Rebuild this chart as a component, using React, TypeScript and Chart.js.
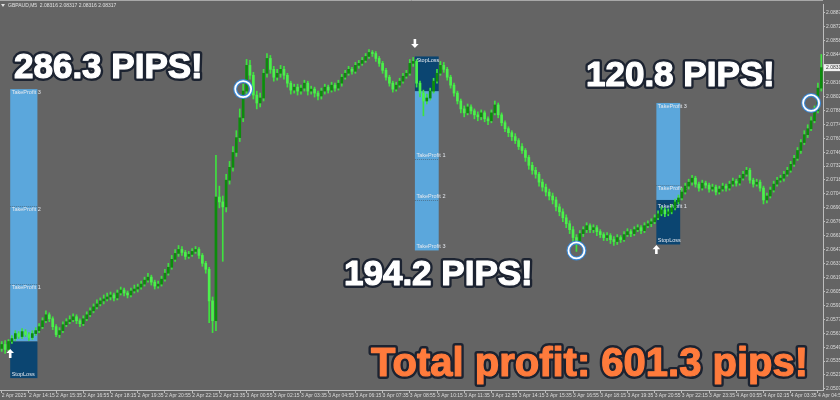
import React, { useEffect, useRef } from "react";
import { Chart, registerables } from "chart.js";

Chart.register(...registerables);

// ---- Price data (GBPAUD, one bar per 10 minutes) ----
const firstOpen = 2.0548;
const closes = [
  2.0552, 2.0547, 2.0555, 2.0558, 2.0563, 2.0560, 2.0565, 2.0562, 2.0559, 2.0563,
  2.0566, 2.0570, 2.0576, 2.0582, 2.0578, 2.0570, 2.0562, 2.0566, 2.0572, 2.0575,
  2.0577, 2.0580, 2.0576, 2.0573, 2.0578, 2.0582, 2.0586, 2.0590, 2.0593, 2.0596,
  2.0598, 2.0600, 2.0602, 2.0599, 2.0604, 2.0607, 2.0604, 2.0602, 2.0606, 2.0608,
  2.0610, 2.0613, 2.0617, 2.0620, 2.0615, 2.0611, 2.0613, 2.0618, 2.0624, 2.0630,
  2.0638, 2.0644, 2.0648, 2.0645, 2.0641, 2.0643, 2.0646, 2.0648, 2.0642, 2.0634,
  2.0628, 2.0596, 2.0576, 2.0701, 2.0696, 2.0691, 2.0718, 2.0731, 2.0746, 2.0761,
  2.0781, 2.0808, 2.0834, 2.0824, 2.0804, 2.0796, 2.0801, 2.0826, 2.0841, 2.0830,
  2.0822, 2.0826, 2.0830, 2.0824, 2.0816, 2.0809, 2.0812, 2.0808, 2.0811, 2.0816,
  2.0808, 2.0810, 2.0806, 2.0803, 2.0808, 2.0812, 2.0809, 2.0814, 2.0811, 2.0816,
  2.0822, 2.0826, 2.0830, 2.0828, 2.0834, 2.0836, 2.0839, 2.0843, 2.0847, 2.0846,
  2.0841, 2.0836, 2.0829, 2.0822, 2.0816, 2.0810, 2.0814, 2.0818, 2.0823, 2.0826,
  2.0836, 2.0838, 2.0816, 2.0806, 2.0798, 2.0801, 2.0808, 2.0818, 2.0826, 2.0834,
  2.0830, 2.0822, 2.0814, 2.0806, 2.0798, 2.0790, 2.0786, 2.0792, 2.0788, 2.0784,
  2.0782, 2.0786, 2.0780, 2.0778, 2.0786, 2.0794, 2.0784, 2.0776, 2.0770, 2.0766,
  2.0762, 2.0758, 2.0752, 2.0748, 2.0741, 2.0733, 2.0728, 2.0724, 2.0716, 2.0711,
  2.0706, 2.0702, 2.0698, 2.0691, 2.0686, 2.0680, 2.0674, 2.0668, 2.0660, 2.0656,
  2.0664, 2.0668, 2.0672, 2.0668, 2.0670, 2.0666, 2.0663, 2.0660, 2.0662, 2.0658,
  2.0656, 2.0660, 2.0658, 2.0663, 2.0666, 2.0664, 2.0668, 2.0670, 2.0667, 2.0672,
  2.0674, 2.0676, 2.0680, 2.0684, 2.0688, 2.0684, 2.0686, 2.0690, 2.0696, 2.0700,
  2.0706, 2.0712, 2.0716, 2.0720, 2.0714, 2.0710, 2.0715, 2.0713, 2.0709, 2.0711,
  2.0706, 2.0709, 2.0712, 2.0710, 2.0714, 2.0717, 2.0715, 2.0720, 2.0724, 2.0728,
  2.0718, 2.0714, 2.0716, 2.0710, 2.0698, 2.0702, 2.0708, 2.0714, 2.0718, 2.0720,
  2.0724, 2.0728, 2.0734, 2.0740, 2.0748, 2.0756, 2.0764, 2.0770, 2.0778, 2.0788,
  2.0811, 2.08317,
];
const highs = [
  2.0555, 2.0556, 2.0557, 2.0561, 2.0566, 2.0565, 2.0568, 2.0567, 2.0564, 2.0566,
  2.0569, 2.0573, 2.0579, 2.0586, 2.0584, 2.0580, 2.0572, 2.0569, 2.0575, 2.0578,
  2.0581, 2.0583, 2.0582, 2.0578, 2.0581, 2.0585, 2.0589, 2.0593, 2.0597, 2.0599,
  2.0602, 2.0604, 2.0605, 2.0604, 2.0607, 2.0610, 2.0609, 2.0606, 2.0609, 2.0612,
  2.0613, 2.0616, 2.0620, 2.0624, 2.0622, 2.0617, 2.0616, 2.0621, 2.0628, 2.0634,
  2.0642, 2.0648, 2.0652, 2.0651, 2.0647, 2.0646, 2.0649, 2.0651, 2.0650, 2.0644,
  2.0636, 2.0630, 2.0600, 2.0743, 2.0712, 2.0702, 2.0724, 2.0737, 2.0752, 2.0768,
  2.0790, 2.0815, 2.0840, 2.0839, 2.0827, 2.0808, 2.0806, 2.0830, 2.0846, 2.0844,
  2.0833, 2.0830, 2.0834, 2.0833, 2.0826, 2.0818, 2.0815, 2.0815, 2.0814, 2.0819,
  2.0818, 2.0813, 2.0812, 2.0808, 2.0811, 2.0815, 2.0814, 2.0817, 2.0816, 2.0819,
  2.0825, 2.0829, 2.0833, 2.0832, 2.0837, 2.0839, 2.0842, 2.0846, 2.0850, 2.0849,
  2.0848, 2.0843, 2.0838, 2.0831, 2.0824, 2.0818, 2.0817, 2.0821, 2.0826, 2.0829,
  2.0840, 2.0842, 2.0840, 2.0818, 2.0809, 2.0805, 2.0811, 2.0821, 2.0830, 2.0838,
  2.0837, 2.0832, 2.0824, 2.0816, 2.0808, 2.0800, 2.0793, 2.0795, 2.0794, 2.0790,
  2.0787, 2.0789, 2.0788, 2.0782, 2.0789, 2.0798, 2.0796, 2.0786, 2.0778, 2.0772,
  2.0768, 2.0765, 2.0760, 2.0755, 2.0750, 2.0743, 2.0736, 2.0731, 2.0726, 2.0719,
  2.0714, 2.0709, 2.0705, 2.0701, 2.0694, 2.0689, 2.0683, 2.0677, 2.0671, 2.0663,
  2.0667, 2.0671, 2.0675, 2.0674, 2.0673, 2.0672, 2.0668, 2.0665, 2.0665, 2.0664,
  2.0661, 2.0663, 2.0662, 2.0666, 2.0669, 2.0668, 2.0671, 2.0673, 2.0672, 2.0675,
  2.0677, 2.0679, 2.0683, 2.0687, 2.0691, 2.0690, 2.0689, 2.0693, 2.0699, 2.0703,
  2.0710, 2.0715, 2.0719, 2.0723, 2.0722, 2.0716, 2.0718, 2.0717, 2.0715, 2.0714,
  2.0713, 2.0712, 2.0715, 2.0714, 2.0717, 2.0720, 2.0719, 2.0723, 2.0727, 2.0731,
  2.0730, 2.0720, 2.0719, 2.0718, 2.0712, 2.0705, 2.0711, 2.0717, 2.0721, 2.0723,
  2.0727, 2.0731, 2.0737, 2.0743, 2.0751, 2.0759, 2.0768, 2.0774, 2.0782, 2.0793,
  2.0816, 2.0845,
];
const lows = [
  2.0545, 2.0543, 2.0545, 2.0553, 2.0556, 2.0558, 2.0558, 2.0560, 2.0556, 2.0557,
  2.0561, 2.0564, 2.0568, 2.0574, 2.0575, 2.0567, 2.0560, 2.0559, 2.0564, 2.0570,
  2.0573, 2.0575, 2.0573, 2.0570, 2.0571, 2.0576, 2.0580, 2.0584, 2.0588, 2.0591,
  2.0593, 2.0596, 2.0597, 2.0596, 2.0597, 2.0602, 2.0601, 2.0599, 2.0600, 2.0604,
  2.0605, 2.0608, 2.0611, 2.0615, 2.0612, 2.0608, 2.0609, 2.0611, 2.0616, 2.0622,
  2.0628, 2.0636, 2.0641, 2.0642, 2.0638, 2.0639, 2.0641, 2.0644, 2.0639, 2.0631,
  2.0624, 2.0574, 2.0564, 2.0566, 2.0690, 2.0636, 2.0686, 2.0714, 2.0727, 2.0742,
  2.0757, 2.0777, 2.0804, 2.0820, 2.0800, 2.0790, 2.0792, 2.0798, 2.0822, 2.0826,
  2.0818, 2.0819, 2.0822, 2.0820, 2.0812, 2.0805, 2.0806, 2.0804, 2.0805, 2.0808,
  2.0804, 2.0805, 2.0802, 2.0799, 2.0800, 2.0805, 2.0806, 2.0807, 2.0808, 2.0809,
  2.0813, 2.0820, 2.0824, 2.0825, 2.0826, 2.0831, 2.0834, 2.0837, 2.0841, 2.0843,
  2.0838, 2.0833, 2.0826, 2.0819, 2.0813, 2.0807, 2.0808, 2.0812, 2.0816, 2.0821,
  2.0824, 2.0833, 2.0812, 2.0802, 2.0783, 2.0795, 2.0799, 2.0806, 2.0816, 2.0824,
  2.0827, 2.0819, 2.0811, 2.0803, 2.0795, 2.0786, 2.0782, 2.0784, 2.0785, 2.0780,
  2.0778, 2.0779, 2.0777, 2.0774, 2.0776, 2.0784, 2.0781, 2.0773, 2.0767, 2.0762,
  2.0758, 2.0755, 2.0749, 2.0745, 2.0737, 2.0729, 2.0724, 2.0720, 2.0712, 2.0707,
  2.0702, 2.0698, 2.0694, 2.0687, 2.0682, 2.0676, 2.0670, 2.0664, 2.0654, 2.0646,
  2.0653, 2.0661, 2.0665, 2.0665, 2.0665, 2.0662, 2.0660, 2.0657, 2.0657, 2.0654,
  2.0652, 2.0653, 2.0655, 2.0656, 2.0661, 2.0661, 2.0662, 2.0666, 2.0664, 2.0665,
  2.0670, 2.0671, 2.0674, 2.0678, 2.0682, 2.0681, 2.0682, 2.0684, 2.0688, 2.0694,
  2.0698, 2.0704, 2.0709, 2.0713, 2.0711, 2.0707, 2.0708, 2.0710, 2.0706, 2.0707,
  2.0703, 2.0704, 2.0707, 2.0707, 2.0708, 2.0712, 2.0712, 2.0713, 2.0718, 2.0722,
  2.0715, 2.0711, 2.0712, 2.0707, 2.0694, 2.0695, 2.0700, 2.0706, 2.0712, 2.0716,
  2.0717, 2.0722, 2.0726, 2.0732, 2.0738, 2.0745, 2.0754, 2.0761, 2.0768, 2.0776,
  2.0786, 2.0808,
];

// ---- Axis labels ----
const timeTickLabels = [
  "2 Apr 2025", "2 Apr 14:15", "2 Apr 15:35", "2 Apr 16:55", "2 Apr 18:15",
  "2 Apr 19:35", "2 Apr 20:55", "2 Apr 22:15", "2 Apr 23:35", "3 Apr 00:55",
  "3 Apr 02:15", "3 Apr 03:35", "3 Apr 04:55", "3 Apr 06:15", "3 Apr 07:35",
  "3 Apr 08:55", "3 Apr 10:15", "3 Apr 11:35", "3 Apr 12:55", "3 Apr 14:15",
  "3 Apr 15:35", "3 Apr 16:55", "3 Apr 18:15", "3 Apr 19:35", "3 Apr 20:55",
  "3 Apr 22:15", "3 Apr 23:35", "4 Apr 00:55", "4 Apr 02:15", "4 Apr 03:35",
  "4 Apr 04:55",
];
const barsPerTimeLabel = 8;
const priceTicks = [
  2.0887, 2.08729, 2.08589, 2.08448, 2.08307, 2.08167, 2.08026, 2.07885,
  2.07744, 2.07604, 2.07463, 2.07322, 2.07182, 2.07041, 2.069, 2.0676,
  2.06619, 2.06478, 2.06337, 2.06197, 2.06056, 2.05915, 2.05775, 2.05634,
  2.05493, 2.05352, 2.05212, 2.05071,
];
const priceMin = 2.0506;
const priceMax = 2.0896;
const headerText = "GBPAUD,M5  2.08316 2.08317 2.08316 2.08317";

// ---- Trades ----
const tradeSide = ["buy", "sell", "buy"];
const tradeStartBar = [3, 122, 193];
const tradeEndBar = [10, 128, 199];
const tradeEntry = [2.0555, 2.0808, 2.0698];
const tradeStop = [2.0518, 2.0843, 2.0653];
const tradeTP1 = [2.0613, 2.0739, 2.0695];
const tradeTP2 = [2.0692, 2.0698, 2.0713];
const tradeTP3 = [2.081, 2.0647, 2.0796];
const tradeArrowPrice = [2.0543, 2.0856, 2.0648];
const tradeHitBar = [71, 169, 238];
const tradePipsText = ["286.3 PIPS!", "194.2 PIPS!", "120.8 PIPS!"];
const totalText = "Total profit: 601.3 pips!";

const BG = "#646464";
const LIGHT_BOX = "#5ba7dc";
const DARK_BOX = "#0b4571";
const WICK = "#3fe23f";
const BULL = "#0c8c0c";
const BEAR = "#4cf04c";

function drawArrow(ctx: CanvasRenderingContext2D, cx: number, cy: number, up: boolean) {
  const s = up ? 1 : -1;
  ctx.save();
  ctx.fillStyle = "#ffffff";
  ctx.beginPath();
  ctx.moveTo(cx, cy - 4.5 * s);
  ctx.lineTo(cx + 3.8, cy - 0.3 * s);
  ctx.lineTo(cx + 1.3, cy - 0.3 * s);
  ctx.lineTo(cx + 1.3, cy + 4.5 * s);
  ctx.lineTo(cx - 1.3, cy + 4.5 * s);
  ctx.lineTo(cx - 1.3, cy - 0.3 * s);
  ctx.lineTo(cx - 3.8, cy - 0.3 * s);
  ctx.closePath();
  ctx.fill();
  ctx.restore();
}

function outlinedText(
  ctx: CanvasRenderingContext2D,
  text: string,
  x: number,
  y: number,
  font: string,
  fill: string
) {
  ctx.save();
  ctx.font = font;
  ctx.textBaseline = "alphabetic";
  ctx.textAlign = "left";
  ctx.lineJoin = "round";
  ctx.lineWidth = 6;
  ctx.strokeStyle = "#1c2331";
  ctx.strokeText(text, x, y);
  ctx.fillStyle = fill;
  ctx.fillText(text, x, y);
  ctx.lineWidth = 1.2;
  ctx.strokeStyle = fill;
  ctx.strokeText(text, x, y);
  ctx.restore();
}

const overlayPlugin = {
  id: "mtOverlay",
  beforeDraw(chart: any) {
    const ctx = chart.ctx as CanvasRenderingContext2D;
    ctx.save();
    ctx.fillStyle = BG;
    ctx.fillRect(0, 0, chart.width, chart.height);
    ctx.restore();
  },
  beforeDatasetsDraw(chart: any) {
    const ctx = chart.ctx as CanvasRenderingContext2D;
    const xs = chart.scales.x;
    const ys = chart.scales.y;
    const half = (xs.getPixelForValue(1) - xs.getPixelForValue(0)) / 2;
    ctx.save();
    for (let t = 0; t < tradeSide.length; t++) {
      const buy = tradeSide[t] === "buy";
      const l = xs.getPixelForValue(tradeStartBar[t]) - half;
      const r = xs.getPixelForValue(tradeEndBar[t]) + half;
      const yE = ys.getPixelForValue(tradeEntry[t]);
      const yS = ys.getPixelForValue(tradeStop[t]);
      const y1 = ys.getPixelForValue(tradeTP1[t]);
      const y2 = ys.getPixelForValue(tradeTP2[t]);
      const y3 = ys.getPixelForValue(tradeTP3[t]);
      ctx.fillStyle = LIGHT_BOX;
      ctx.fillRect(l, Math.min(yE, y3), r - l, Math.abs(y3 - yE));
      ctx.fillStyle = DARK_BOX;
      ctx.fillRect(l, Math.min(yE, yS), r - l, Math.abs(yS - yE));
      ctx.strokeStyle = "rgba(60,60,60,0.45)";
      ctx.lineWidth = 1;
      ctx.setLineDash([1, 1]);
      for (const yy of [y1, y2]) {
        ctx.beginPath();
        ctx.moveTo(l, Math.round(yy) + 0.5);
        ctx.lineTo(r, Math.round(yy) + 0.5);
        ctx.stroke();
      }
      ctx.setLineDash([]);
      ctx.font = '5.5px "Liberation Sans", Arial, sans-serif';
      ctx.fillStyle = "#e4e8ee";
      ctx.textAlign = "left";
      const tps: [number, string][] = [
        [y1, "TakeProfit 1"],
        [y2, "TakeProfit 2"],
        [y3, "TakeProfit 3"],
      ];
      for (const [yy, txt] of tps) {
        if (buy) {
          ctx.textBaseline = "top";
          ctx.fillText(txt, l + 1.5, yy + 1);
        } else {
          ctx.textBaseline = "bottom";
          ctx.fillText(txt, l + 1.5, yy - 1);
        }
      }
      if (buy) {
        ctx.textBaseline = "bottom";
        ctx.fillText("StopLoss", l + 1.5, yS - 1);
      } else {
        ctx.textBaseline = "top";
        ctx.fillText("StopLoss", l + 1.5, yS + 1);
      }
    }
    ctx.restore();
  },
  afterDatasetsDraw(chart: any) {
    const ctx = chart.ctx as CanvasRenderingContext2D;
    const xs = chart.scales.x;
    const ys = chart.scales.y;
    const half = (xs.getPixelForValue(1) - xs.getPixelForValue(0)) / 2;
    ctx.save();
    for (let t = 0; t < tradeSide.length; t++) {
      const buy = tradeSide[t] === "buy";
      const l = xs.getPixelForValue(tradeStartBar[t]) - half;
      drawArrow(ctx, l, ys.getPixelForValue(tradeArrowPrice[t]), buy);
      const cx = xs.getPixelForValue(tradeHitBar[t]);
      const cy = ys.getPixelForValue(tradeTP3[t]);
      ctx.beginPath();
      ctx.arc(cx, cy, 8, 0, Math.PI * 2);
      ctx.strokeStyle = "#3b88d4";
      ctx.lineWidth = 4;
      ctx.stroke();
      ctx.beginPath();
      ctx.arc(cx, cy, 8, 0, Math.PI * 2);
      ctx.strokeStyle = "#ffffff";
      ctx.lineWidth = 1.8;
      ctx.stroke();
    }
    ctx.restore();
  },
  afterDraw(chart: any) {
    const ctx = chart.ctx as CanvasRenderingContext2D;
    const ys = chart.scales.y;
    const area = chart.chartArea;
    ctx.save();
    ctx.strokeStyle = "#a8a8a8";
    ctx.lineWidth = 1;
    ctx.beginPath();
    ctx.moveTo(0, 0.5);
    ctx.lineTo(area.right, 0.5);
    ctx.stroke();
    ctx.fillStyle = "#e0e0e0";
    ctx.beginPath();
    ctx.moveTo(1, 4);
    ctx.lineTo(5, 4);
    ctx.lineTo(3, 7);
    ctx.closePath();
    ctx.fill();
    ctx.font = '5px "Liberation Sans", Arial, sans-serif';
    ctx.textBaseline = "middle";
    ctx.textAlign = "left";
    ctx.fillText(headerText, 8, 5.5);
    const last = closes[closes.length - 1];
    const py = ys.getPixelForValue(last);
    ctx.fillStyle = "#f2f2f2";
    ctx.fillRect(area.right + 1, py - 3.5, 17, 7);
    ctx.fillStyle = "#333";
    ctx.fillText(last.toFixed(5), area.right + 3, py);
    ctx.restore();

    const big = 'bold 35px "Liberation Sans", Arial, sans-serif';
    outlinedText(ctx, tradePipsText[0], 14, 78, big, "#ffffff");
    outlinedText(ctx, tradePipsText[1], 344, 285, big, "#ffffff");
    outlinedText(ctx, tradePipsText[2], 586, 86, big, "#ffffff");
    outlinedText(ctx, totalText, 371, 376, 'bold 40px "Liberation Sans", Arial, sans-serif', "#ff7b3c");
  },
};

export default function App() {
  const ref = useRef<HTMLCanvasElement | null>(null);
  useEffect(() => {
    if (!ref.current) return;
    const opens = closes.map((_, i) => (i === 0 ? firstOpen : closes[i - 1]));
    const labels = closes.map((_, i) => i);
    const chart = new Chart(ref.current, {
      type: "bar",
      data: {
        labels,
        datasets: [
          {
            label: "body",
            data: opens.map((o, i) => [o, closes[i]]) as any,
            barThickness: 2,
            minBarLength: 1,
            grouped: false,
            order: 0,
            borderWidth: 0,
            borderSkipped: false,
            backgroundColor: (c: any) =>
              closes[c.dataIndex] >= opens[c.dataIndex] ? BULL : BEAR,
          } as any,
          {
            label: "wick",
            data: lows.map((lo, i) => [lo, highs[i]]) as any,
            barThickness: 1,
            grouped: false,
            order: 1,
            borderWidth: 0,
            backgroundColor: WICK,
          } as any,
        ],
      },
      options: {
        responsive: false,
        animation: false,
        devicePixelRatio: 1,
        layout: { padding: 0 },
        plugins: { legend: { display: false }, tooltip: { enabled: false } },
        scales: {
          x: {
            type: "category",
            offset: true,
            grid: {
              offset: false,
              drawOnChartArea: false,
              drawTicks: true,
              tickLength: 3,
              color: (c: any) => (c.index % barsPerTimeLabel === 0 ? "#bdbdbd" : "rgba(0,0,0,0)"),
            },
            border: { color: "#bdbdbd" },
            ticks: {
              autoSkip: false,
              maxRotation: 0,
              minRotation: 0,
              align: "start",
              padding: 0,
              color: "#dcdcdc",
              font: { size: 5, family: '"Liberation Sans", Arial, sans-serif' },
              callback: (_v: any, i: number) =>
                i % barsPerTimeLabel === 0 ? timeTickLabels[i / barsPerTimeLabel] : "",
            },
            afterFit: (s: any) => {
              s.height = 10;
            },
          },
          y: {
            type: "linear",
            position: "right",
            min: priceMin,
            max: priceMax,
            afterBuildTicks: (s: any) => {
              s.ticks = priceTicks.map((v) => ({ value: v }));
            },
            grid: { drawOnChartArea: false, tickLength: 2, color: "#bdbdbd" },
            border: { color: "#bdbdbd" },
            ticks: {
              autoSkip: false,
              padding: 1,
              color: "#dcdcdc",
              font: { size: 5, family: '"Liberation Sans", Arial, sans-serif' },
              callback: (v: any) => Number(v).toFixed(5),
            },
            afterFit: (s: any) => {
              s.width = 17;
            },
          },
        },
      },
      plugins: [overlayPlugin],
    });
    return () => chart.destroy();
  }, []);
  return (
    <div style={{ position: "fixed", left: 0, top: 0, width: 840, height: 400, background: BG }}>
      <canvas ref={ref} width={840} height={400} />
    </div>
  );
}
